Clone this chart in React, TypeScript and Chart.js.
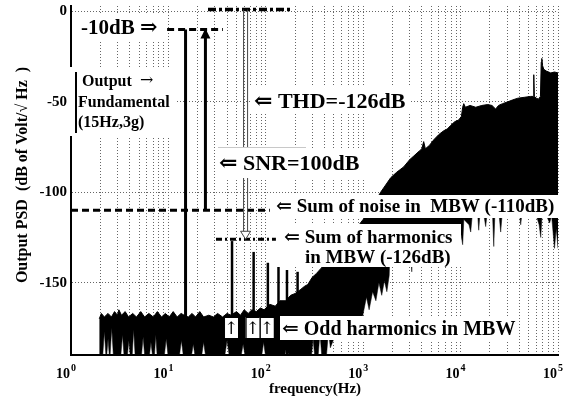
import React, { useEffect, useRef } from 'react';
import { Chart, registerables } from 'chart.js';

Chart.register(...registerables);

const SERIF = '"Liberation Serif", "DejaVu Serif", "Times New Roman", serif';
const bold = (size: number) => `bold ${size}px ${SERIF}`;

// ---- Noise PSD envelope (upper edge of the black area), Hz / dB
const noiseTopFreq = [1.95, 2.05, 2.2, 2.4, 2.6, 2.8, 3.0, 3.1, 3.3, 3.6,
  3.9, 4.3, 4.7, 5.2, 5.7, 6.3, 7.0, 7.7, 8.5, 9.3,
  10.2, 11.2, 12.3, 13.5, 14.5, 16, 17.5, 19, 21, 23,
  26, 29, 32, 36, 40, 44, 50, 55, 60, 66,
  72, 80, 88, 96, 110, 125, 140, 160, 180, 200,
  225, 250, 270, 300, 330, 370, 450, 550, 700, 850,
  1000, 1200, 1400, 1510, 1700, 1913, 2200, 2600, 3000, 3300,
  3800, 4000, 4180, 4350, 4800, 5300, 6000, 6710, 7300, 7930,
  8700, 9570, 10200, 10500, 10770, 11200, 12500, 14300, 16500, 19000,
  21000, 22900, 24500, 27000, 30500, 34000, 38600, 45000, 52500, 55700,
  56400, 57200, 60000, 63000, 66000, 67300, 68200, 69500, 71400, 76000,
  84300, 92000, 100000];
const noiseTopDb = [-170, -167, -169, -167, -169, -166, -168, -165, -168, -166,
  -169, -167, -169, -166, -169, -167, -169, -166, -169, -167,
  -169, -166, -169, -167, -168, -169, -167, -169, -166, -169,
  -168, -169, -167, -169, -167, -168, -166, -168, -165, -167,
  -165, -166, -164, -165, -162, -163, -160, -160, -157, -156,
  -154, -152, -151, -147, -145, -142, -137, -131, -125, -120,
  -115, -108, -103, -100, -96, -92, -89, -86, -82, -80,
  -77, -76, -72, -76, -74, -71, -68, -66, -65, -63,
  -61, -60, -58, -53, -51, -53, -52, -53, -52, -51.5,
  -52, -54, -52, -51, -50, -49, -48, -47.5, -47, -47,
  -35, -47, -48, -48.5, -47, -28, -26, -30, -32, -33,
  -34, -33.5, -34];

// ---- Noise PSD envelope (lower edge of the black area), Hz / dB
const noiseBottomFreq = [1.95, 2.12, 2.2, 2.28, 2.33, 2.4, 2.47, 2.52, 2.62, 2.72,
  3.25, 3.38, 3.5, 3.8, 3.92, 4.05, 4.25, 4.4, 4.55, 5.3,
  5.5, 5.7, 6.4, 6.62, 6.85, 7.2, 7.42, 7.65, 9.1, 9.5,
  9.9, 13.0, 13.6, 14.2, 17.3, 18, 18.7, 22, 23, 24,
  38, 40, 42, 56, 58.5, 61, 91, 95, 99, 157,
  164, 171, 295, 306, 317, 345, 360, 375, 420, 440,
  460, 500, 600, 700, 800, 900, 1000, 1080, 1150, 1250,
  1350, 1450, 1550, 1650, 1750, 1850, 1900, 3000, 3150, 3300,
  5000, 8000, 10000, 10500, 10800, 12200, 12700, 13200, 15000, 15350,
  15800, 17500, 18100, 18700, 21300, 21900, 22500, 25000, 25800, 26800,
  30000, 40000, 41400, 43000, 55000, 60000, 64000, 66500, 68500, 75000,
  82000, 86000, 92000, 96000, 100000];
const noiseBottomDb = [-190, -190, -177, -190, -190, -181, -190, -190, -175, -190,
  -190, -179, -190, -190, -182, -190, -190, -176, -190, -190,
  -180, -190, -190, -183, -190, -190, -179, -190, -190, -181,
  -190, -190, -182, -190, -190, -184, -190, -190, -183, -190,
  -190, -182, -190, -190, -184, -190, -190, -183, -190, -190,
  -185, -190, -190, -181, -190, -190, -178, -190, -190, -177,
  -186, -181, -177, -180, -176, -179, -167, -158, -165, -155,
  -160, -150, -157, -149, -155, -146, -125, -122, -144, -122,
  -124, -121, -122, -129, -115, -118, -122, -112, -113, -121,
  -112, -114, -119, -112, -113, -130, -112, -114, -122, -111,
  -112, -110, -118, -110, -111, -113, -118, -125, -113, -112,
  -117, -113, -131, -120, -131];

// ---- Tones
const floorDb = -190;
const fundamentalFreq = 15;
const fundamentalDb = -10;
const harmonicFreqs = [45, 75, 105, 135, 165, 212];
const harmonicDb = [-127, -133, -139, -134, -143, -144];
const arrowHarmonics = [45, 75, 105];

// ---- Annotation levels
const signalRefDb = -10;
const signalRefFreq = [9.7, 36.3];
const noiseSumDb = -110;
const noiseSumFreq = [1, 110];
const snrFreq = 24;
const snrDb = [-110, -10];
const thdTopDb = 1;
const thdTopFreq = [25.5, 181];
const thdFreq = 62;
const harmonicSumDb = -126;
const harmonicSumFreq = [30.8, 127];

// ---- Axes
const yTicks = [-150, -100, -50, 0];
const xDecades = [1, 10, 100, 1000, 10000, 100000];
const xExponents = ['0', '1', '2', '3', '4', '5'];
const xMultipliers = [1, 2, 3, 4, 5, 6, 7, 8, 9];
const xGridValues: number[] = [];
xDecades.slice(0, 5).forEach((d) => xMultipliers.forEach((m) => xGridValues.push(m * d)));
xGridValues.push(100000);

const pts = (xs: number[], ys: number[]) => xs.map((x, i) => ({ x, y: ys[i] }));
const lineDs = (data: any[], width: number, dash: number[] = []) => ({
  data,
  borderColor: '#000',
  borderWidth: width,
  borderDash: dash,
  borderCapStyle: 'butt',
  pointRadius: 0,
  fill: false,
});

const overlay = {
  id: 'overlay',
  afterDatasetsDraw(chart: any) {
    const { ctx } = chart;
    const X = (v: number) => chart.scales.x.getPixelForValue(v);
    const Y = (v: number) => chart.scales.y.getPixelForValue(v);
    ctx.save();

    // THD hollow arrow
    const tx = X(thdFreq);
    const yTop = Y(thdTopDb);
    const yTip = Y(harmonicSumDb);
    ctx.strokeStyle = '#444';
    ctx.lineWidth = 1;
    ctx.beginPath();
    ctx.moveTo(tx - 2, yTop);
    ctx.lineTo(tx - 2, yTip - 8);
    ctx.moveTo(tx + 2, yTop);
    ctx.lineTo(tx + 2, yTip - 8);
    ctx.stroke();
    ctx.beginPath();
    ctx.moveTo(tx - 5, yTip - 8);
    ctx.lineTo(tx + 5, yTip - 8);
    ctx.lineTo(tx, yTip);
    ctx.closePath();
    ctx.fillStyle = '#fff';
    ctx.fill();
    ctx.stroke();

    // SNR arrowhead
    const sx = X(snrFreq);
    const sy = Y(snrDb[1]);
    ctx.fillStyle = '#000';
    ctx.beginPath();
    ctx.moveTo(sx, sy - 1);
    ctx.lineTo(sx - 5, sy + 9);
    ctx.lineTo(sx + 5, sy + 9);
    ctx.closePath();
    ctx.fill();

    const box = (x: number, y: number, w: number, h: number) => {
      ctx.fillStyle = '#fff';
      ctx.fillRect(x, y, w, h);
    };
    const text = (s: string, x: number, y: number, size: number, align = 'left', font?: string) => {
      ctx.font = font || bold(size);
      ctx.fillStyle = '#000';
      ctx.textAlign = align;
      ctx.textBaseline = 'alphabetic';
      ctx.fillText(s, x, y);
    };

    box(74, 14, 93, 26);
    text('-10dB \u21D2', 81, 34, 21);

    box(68, 67, 108, 69);
    ctx.fillStyle = '#000';
    ctx.fillRect(75, 72, 2, 61);
    text('Output', 82, 86, 16);
    text('\u2192', 140, 85, 16, 'left', '16px "DejaVu Serif"');
    text('Fundamental', 78, 107, 16);
    text('(15Hz,3g)', 78, 127, 16);

    box(250, 87, 160, 27);
    text('\u21D0 THD=-126dB', 254, 108, 22);

    box(217, 148, 150, 30);
    ctx.fillStyle = '#c8c8c8';
    ctx.fillRect(218, 147, 88, 1);
    text('\u21D0 SNR=100dB', 219, 170, 22);

    box(272, 195, 290, 23);
    text('\u21D0 Sum of noise in  MBW (-110dB)', 276, 212, 19);

    box(276, 224, 185, 43);
    text('\u21D0 Sum of harmonics', 284, 243, 19);
    text('in MBW (-126dB)', 305, 263, 19);

    box(280, 316, 236, 24);
    text('\u21D0 Odd harmonics in MBW', 282, 335, 20);

    arrowHarmonics.forEach((h) => {
      const cx = X(h) - 1;
      ctx.fillStyle = '#fff';
      ctx.fillRect(cx - 7, 317, 14, 21);
      ctx.strokeStyle = '#000';
      ctx.lineWidth = 1;
      ctx.strokeRect(cx - 7 + 0.5, 317.5, 14, 21);
      text('\u2191', cx, 334, 17, 'center', '17px "DejaVu Serif"');
    });

    ctx.restore();
  },
  afterDraw(chart: any) {
    const { ctx } = chart;
    const X = (v: number) => chart.scales.x.getPixelForValue(v);
    ctx.save();
    ctx.fillStyle = '#000';
    ctx.textBaseline = 'alphabetic';
    xDecades.forEach((d, i) => {
      const tx = X(d);
      ctx.font = bold(14);
      ctx.textAlign = 'right';
      ctx.fillText('10', tx - 1, 378);
      ctx.font = bold(10);
      ctx.textAlign = 'left';
      ctx.fillText(xExponents[i], tx, 371);
    });
    ctx.font = bold(15);
    ctx.textAlign = 'center';
    ctx.fillText('frequency(Hz)', 315, 393);

    ctx.translate(23, 175);
    ctx.rotate(-Math.PI / 2);
    ctx.font = bold(16);
    ctx.textAlign = 'center';
    ctx.textBaseline = 'middle';
    ctx.fillText('Output PSD  (dB of Volt/\u221A Hz  )', 0, 0);
    ctx.restore();
  },
};

export default function App() {
  const ref = useRef<HTMLCanvasElement>(null);
  useEffect(() => {
    const datasets: any[] = [
      {
        data: pts(noiseTopFreq, noiseTopDb),
        borderColor: '#000',
        borderWidth: 1,
        backgroundColor: '#000',
        fill: '+1',
        pointRadius: 0,
      },
      {
        data: pts(noiseBottomFreq, noiseBottomDb),
        borderColor: '#000',
        borderWidth: 0.5,
        fill: false,
        pointRadius: 0,
      },
      lineDs([{ x: fundamentalFreq, y: floorDb }, { x: fundamentalFreq, y: fundamentalDb }], 3),
      ...harmonicFreqs.map((h, i) => lineDs([{ x: h, y: floorDb }, { x: h, y: harmonicDb[i] }], 2.5)),
      lineDs(pts(signalRefFreq, [signalRefDb, signalRefDb]), 3, [7, 4]),
      lineDs(pts(noiseSumFreq, [noiseSumDb, noiseSumDb]), 3, [7, 4]),
      lineDs(pts([snrFreq, snrFreq], snrDb), 3),
      lineDs(pts(thdTopFreq, [thdTopDb, thdTopDb]), 3.5, [8, 3, 3, 3]),
      lineDs(pts(harmonicSumFreq, [harmonicSumDb, harmonicSumDb]), 3, [6, 3, 2, 3]),
    ];
    const chart = new Chart(ref.current as HTMLCanvasElement, {
      type: 'line',
      data: { datasets },
      options: {
        responsive: false,
        animation: false,
        devicePixelRatio: 1,
        layout: { padding: { left: 0, right: 11, top: 6, bottom: 0 } },
        elements: { line: { tension: 0 }, point: { radius: 0 } },
        plugins: { legend: { display: false }, tooltip: { enabled: false } },
        scales: {
          x: {
            type: 'logarithmic',
            min: 1,
            max: 100000,
            afterBuildTicks: (s: any) => {
              s.ticks = xGridValues.map((v) => ({ value: v }));
            },
            afterFit: (s: any) => {
              s.height = 48;
              s.paddingLeft = 0;
              s.paddingRight = 0;
            },
            ticks: { display: false },
            grid: { color: '#666', lineWidth: 1, drawTicks: false },
            border: { display: true, color: '#000', width: 2, dash: [1, 2] },
          },
          y: {
            type: 'linear',
            min: -190,
            max: 3,
            afterBuildTicks: (s: any) => {
              s.ticks = yTicks.map((v) => ({ value: v }));
            },
            afterFit: (s: any) => {
              s.width = 71;
              s.paddingTop = 0;
              s.paddingBottom = 0;
            },
            ticks: {
              color: '#000',
              padding: 4,
              font: { family: SERIF, size: 15, weight: 'bold' },
            },
            grid: { color: '#666', lineWidth: 1, drawTicks: false },
            border: { display: true, color: '#000', width: 2, dash: [1, 2] },
          },
        },
      } as any,
      plugins: [overlay],
    });
    return () => chart.destroy();
  }, []);
  return (
    <div style={{ position: 'fixed', left: 0, top: 0, width: 569, height: 403, background: '#fff' }}>
      <canvas ref={ref} width={569} height={403} style={{ width: 569, height: 403, display: 'block' }} />
    </div>
  );
}
